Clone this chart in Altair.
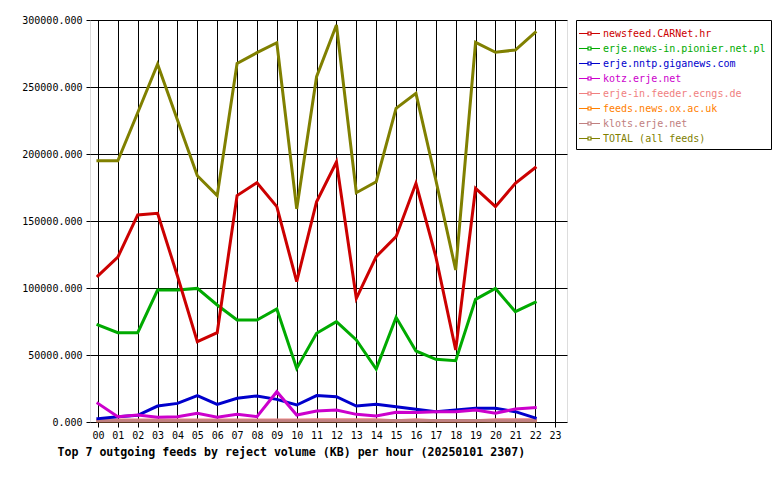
import altair as alt
import pandas as pd

hours = list(range(23))
hour_ticks = list(range(24))

feeds = [
    "newsfeed.CARNet.hr",
    "erje.news-in.pionier.net.pl",
    "erje.nntp.giganews.com",
    "kotz.erje.net",
    "erje-in.feeder.ecngs.de",
    "feeds.news.ox.ac.uk",
    "klots.erje.net",
    "TOTAL (all feeds)",
]
colors = ["#cc0000", "#00aa00", "#0000cc", "#cc00cc", "#f08080", "#ff8000", "#c08080", "#808000"]

carnet = [109000, 123000, 154500, 155700, 109000, 60000, 66700, 169000, 178600, 160700, 104700, 164400,
          194000, 92300, 123400, 138300, 178100, 123400, 53700, 174400, 160700, 178100, 189800]
pionier = [72400, 66600, 66600, 98500, 98500, 99700, 87300, 76100, 76100, 84300, 40000, 66200,
           74900, 61200, 39500, 78100, 53000, 46800, 45800, 91500, 99700, 82300, 89300]
giganews = [2500, 4000, 5000, 11900, 13900, 19700, 13200, 17700, 19400, 16900, 12700, 19700,
            18900, 11900, 13200, 11400, 9500, 7700, 9000, 10200, 10200, 7700, 3000]
kotz = [13900, 4000, 5200, 3500, 4000, 6500, 3500, 5700, 4000, 22600, 5200, 8200,
        9000, 5700, 4500, 7200, 7000, 7700, 7700, 9000, 6500, 9700, 10700]
ecngs = [1500, 1500, 1500, 1500, 1500, 1500, 1500, 1500, 1500, 1500, 1500, 1600,
         1600, 1600, 1600, 900, 1600, 900, 900, 900, 1600, 1600, 1600]
oxac = [900, 900, 900, 900, 900, 900, 900, 900, 900, 900, 900, 900,
        900, 900, 900, 900, 900, 900, 900, 900, 900, 900, 900]
klots = [1000, 1000, 1000, 1000, 1000, 1000, 1000, 1000, 1000, 1000, 1000, 1000,
         1000, 1000, 1000, 1200, 1000, 1200, 1200, 1200, 1000, 1000, 1000]
total = [195000, 195000, 230800, 267000, 225400, 183800, 168900, 267500, 275600, 283000, 159000, 257700,
         296300, 171100, 179300, 234100, 245300, 180600, 113400, 283300, 275900, 277600, 290800]

series = [carnet, pionier, giganews, kotz, ecngs, oxac, klots, total]
draw_order = [5, 4, 6, 1, 0, 2, 3, 7]

rows = []
for idx in draw_order:
    for h, v in zip(hours, series[idx]):
        rows.append({"hour": h, "feed": feeds[idx], "kb": v})
df = pd.DataFrame(rows)

MONO = "DejaVu Sans Mono"
title_text = "Top 7 outgoing feeds by reject volume (KB) per hour (20250101 2307)"

chart = alt.Chart(df).mark_line(strokeWidth=3, strokeJoin="miter", strokeCap="square").encode(
    x=alt.X(
        "hour:Q",
        scale=alt.Scale(domain=[-0.4, 23.6], nice=False, zero=False),
        axis=alt.Axis(
            values=hour_ticks,
            labelExpr="datum.value < 10 ? '0' + datum.value : '' + datum.value",
            grid=True, gridColor="black", gridOpacity=1, gridWidth=1,
            tickSize=5, tickColor="black", domain=False,
            labelFont=MONO, labelFontSize=10, labelColor="black", labelPadding=3,
            labelFlush=False,
            title=title_text, titleFont=MONO, titleFontSize=11.6, titleFontWeight="bold",
            titleColor="black", titleX=-33, titleY=33, titleAlign="left",
            titleBaseline="alphabetic", titleAnchor="start",
        ),
    ),
    y=alt.Y(
        "kb:Q",
        scale=alt.Scale(domain=[0, 300000], nice=False),
        axis=alt.Axis(
            values=[0, 50000, 100000, 150000, 200000, 250000, 300000],
            format=".3f",
            grid=True, gridColor="black", gridOpacity=1, gridWidth=1,
            tickSize=4, tickColor="black", domain=False,
            labelFont=MONO, labelFontSize=10, labelColor="black", labelPadding=4,
            labelFlush=False,
            title=None,
        ),
    ),
    color=alt.Color(
        "feed:N",
        scale=alt.Scale(domain=feeds, range=colors),
        title=None,
        legend=alt.Legend(
            orient="none", legendX=486, legendY=0,
            strokeColor="black", fillColor="white", padding=5,
            symbolType="M-1.4,0H-0.2M0.2,0H1.4M-0.2,-0.2H0.2V0.2H-0.2Z",
            symbolSize=225, symbolStrokeWidth=1.2,
            labelFont=MONO, labelFontSize=10, labelOffset=5,
            labelColor={"expr": "scale('color', datum.value)"},
            rowPadding=1, labelLimit=300,
        ),
    ),
).properties(
    width=477,
    height=402,
    autosize=alt.AutoSizeParams(type="none"),
    padding={"left": 90, "top": 20, "right": 213, "bottom": 58},
).configure_view(
    fill="#e0e0e0", stroke="black", strokeWidth=1.5
).configure(background="white")

chart.save("out.html", embed_options={"renderer": "svg", "actions": False})
